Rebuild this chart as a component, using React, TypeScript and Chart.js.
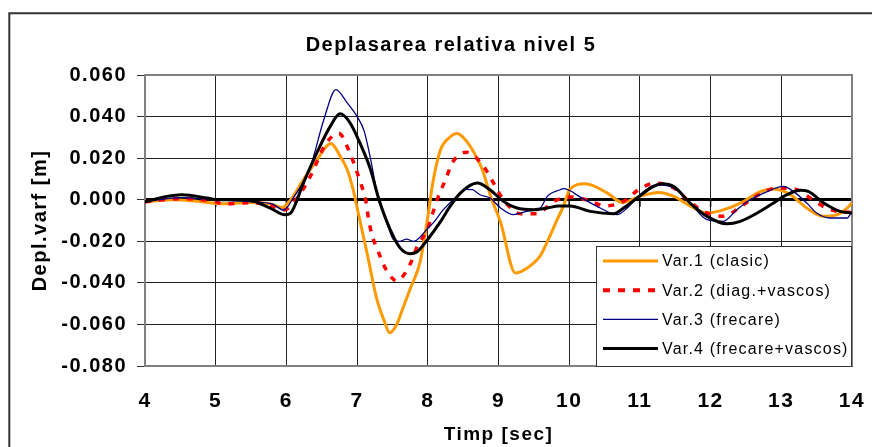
import React, { useEffect, useRef } from 'react';
import { Chart, registerables } from 'chart.js';

Chart.register(...registerables);

const chartTitle = 'Deplasarea relativa nivel 5';
const xAxisTitle = 'Timp [sec]';
const yAxisTitle = 'Depl.varf [m]';

const xMin = 4;
const xMax = 14;
const xStep = 1;
const yMin = -0.08;
const yMax = 0.06;
const yStep = 0.02;

const seriesLabels = ['Var.1 (clasic)', 'Var.2 (diag.+vascos)', 'Var.3 (frecare)', 'Var.4 (frecare+vascos)'];

const var1Time = [4.0, 4.4, 4.74, 5.11, 5.44, 5.77, 5.94, 6.06, 6.24, 6.43, 6.55, 6.63, 6.76, 6.86, 6.95, 7.02, 7.14, 7.28, 7.38, 7.46, 7.56, 7.65, 7.75, 7.89, 8.01, 8.07, 8.18, 8.3, 8.41, 8.5, 8.6, 8.77, 8.89, 9.03, 9.24, 9.4, 9.59, 9.68, 9.83, 9.92, 10.01, 10.23, 10.54, 10.75, 11.0, 11.26, 11.48, 11.71, 11.95, 12.19, 12.47, 12.66, 12.87, 13.13, 13.36, 13.6, 13.79, 13.93, 14.0];
const var1Disp = [-0.001, 0.0, -0.0008, -0.002, -0.0013, -0.002, -0.0037, 0.0, 0.0096, 0.019, 0.025, 0.027, 0.021, 0.0145, 0.004, -0.007, -0.0256, -0.048, -0.058, -0.064, -0.06, -0.052, -0.043, -0.03, -0.006, 0.008, 0.024, 0.0297, 0.0318, 0.03, 0.0257, 0.0145, 0.0016, -0.011, -0.0353, -0.033, -0.027, -0.021, -0.0096, -0.003, 0.005, 0.0077, 0.0032, -0.0013, 0.0016, 0.0035, 0.0016, -0.003, -0.0064, -0.0048, -0.0008, 0.0032, 0.0051, 0.0024, -0.004, -0.008, -0.0072, -0.004, -0.0015];

const var2Time = [4.0, 4.5, 5.0, 5.1, 5.5, 5.8, 5.96, 6.17, 6.35, 6.55, 6.74, 6.88, 6.97, 7.05, 7.12, 7.16, 7.21, 7.3, 7.4, 7.56, 7.75, 7.85, 7.99, 8.07, 8.15, 8.25, 8.35, 8.55, 8.79, 8.93, 9.07, 9.31, 9.54, 9.78, 10.04, 10.27, 10.51, 10.77, 10.98, 11.22, 11.48, 11.67, 11.9, 12.18, 12.44, 12.68, 12.94, 13.2, 13.43, 13.67, 13.93, 14.0];
const var2Disp = [-0.001, 0.0005, -0.001, -0.002, -0.0015, -0.003, -0.005, 0.0016, 0.012, 0.0265, 0.032, 0.024, 0.016, 0.008, 0.0, -0.0088, -0.0169, -0.025, -0.033, -0.039, -0.031, -0.0225, -0.0145, -0.0064, 0.0016, 0.0096, 0.018, 0.0228, 0.016, 0.008, 0.0, -0.0067, -0.0067, -0.0008, 0.0013, -0.0003, -0.003, -0.0008, 0.0048, 0.008, 0.0056, 0.0, -0.0056, -0.008, -0.003, 0.0024, 0.0056, 0.0051, 0.0003, -0.0045, -0.006, -0.006];

const var3Time = [4.0, 4.5, 5.0, 5.5, 5.8, 5.96, 6.1, 6.34, 6.53, 6.7, 6.86, 7.0, 7.1, 7.2, 7.3, 7.37, 7.45, 7.51, 7.6, 7.7, 7.8, 7.89, 7.98, 8.08, 8.22, 8.41, 8.55, 8.63, 8.74, 8.88, 9.03, 9.21, 9.4, 9.59, 9.69, 9.87, 9.92, 10.18, 10.44, 10.68, 10.82, 11.0, 11.24, 11.48, 11.71, 11.95, 12.18, 12.37, 12.56, 12.75, 13.03, 13.17, 13.36, 13.5, 13.69, 13.93, 14.0];
const var3Disp = [-0.001, 0.001, 0.0, -0.001, -0.002, -0.005, 0.001, 0.016, 0.0386, 0.053, 0.0466, 0.04, 0.033, 0.018, 0.0, -0.0064, -0.014, -0.019, -0.02, -0.019, -0.02, -0.018, -0.0145, -0.011, -0.0048, 0.0016, 0.005, 0.0048, 0.0024, 0.0008, -0.004, -0.0072, -0.0056, -0.004, 0.0016, 0.0048, 0.0053, 0.0008, -0.004, -0.0072, -0.004, 0.0024, 0.0072, 0.0056, -0.0016, -0.0096, -0.0104, -0.0048, 0.0, 0.0032, 0.0064, 0.004, -0.0016, -0.0064, -0.0088, -0.0088, -0.0056];

const var4Time = [4.0, 4.31, 4.52, 4.88, 5.02, 5.44, 5.77, 5.98, 6.06, 6.24, 6.43, 6.62, 6.76, 6.9, 7.04, 7.19, 7.31, 7.47, 7.61, 7.75, 7.85, 8.0, 8.18, 8.32, 8.46, 8.7, 8.88, 9.07, 9.26, 9.5, 9.69, 9.85, 10.01, 10.3, 10.63, 10.77, 10.96, 11.15, 11.31, 11.48, 11.71, 11.95, 12.23, 12.42, 12.66, 12.89, 13.08, 13.27, 13.38, 13.6, 13.83, 14.0];
const var4Disp = [-0.001, 0.0016, 0.0024, 0.0008, 0.0, 0.0, -0.004, -0.0072, -0.0064, 0.008, 0.0225, 0.0353, 0.0413, 0.037, 0.0273, 0.0145, 0.0, -0.0145, -0.0233, -0.026, -0.025, -0.019, -0.0105, -0.003, 0.0032, 0.008, 0.0048, -0.0008, -0.004, -0.0048, -0.004, -0.003, -0.003, -0.0056, -0.0067, -0.004, 0.0008, 0.0056, 0.0077, 0.0064, -0.0016, -0.008, -0.0116, -0.0104, -0.0064, -0.0016, 0.0024, 0.0045, 0.004, -0.0016, -0.0056, -0.0064];

const seriesTimes = [var1Time, var2Time, var3Time, var4Time];
const seriesDisps = [var1Disp, var2Disp, var3Disp, var4Disp];
const seriesColors = ['#FF9900', '#FF0000', '#000080', '#000000'];
const seriesWidths = [3, 3.5, 1.3, 3];
const seriesDashes: number[][] = [[], [6, 8], [], []];

const FONT = 'Arial, "Liberation Sans", sans-serif';

const decorPlugin = {
  id: 'decor',
  beforeUpdate(chart: any) {
    chart.ctx.letterSpacing = '1.5px';
  },
  beforeDatasetsDraw(chart: any) {
    const { ctx, chartArea: a, scales } = chart;
    ctx.save();
    const y0 = scales.y.getPixelForValue(0);
    ctx.strokeStyle = '#000';
    ctx.lineWidth = 1.5;
    for (let t = xMin; t <= xMax; t += xStep) {
      const px = scales.x.getPixelForValue(t);
      ctx.beginPath();
      ctx.moveTo(px, y0);
      ctx.lineTo(px, y0 + 7);
      ctx.stroke();
    }
    ctx.strokeStyle = '#808080';
    ctx.lineWidth = 2;
    ctx.strokeRect(a.left, a.top, a.right - a.left, a.bottom - a.top);
    ctx.restore();
  },
  afterDraw(chart: any) {
    const { ctx, chartArea: a } = chart;
    ctx.save();
    // outer frame
    ctx.strokeStyle = '#333';
    ctx.lineWidth = 2;
    ctx.beginPath();
    ctx.moveTo(9.3, 447);
    ctx.lineTo(9.3, 13.2);
    ctx.lineTo(872, 13.2);
    ctx.stroke();
    // title
    ctx.fillStyle = '#000';
    ctx.font = `bold 20px ${FONT}`;
    ctx.textAlign = 'center';
    ctx.textBaseline = 'middle';
    ctx.fillText(chartTitle, 451, 45);
    // legend
    const lw = 256, lh = 120;
    const lx = a.right - lw, ly = a.bottom - lh;
    ctx.fillStyle = '#fff';
    ctx.fillRect(lx, ly, lw, lh);
    ctx.strokeStyle = '#333';
    ctx.lineWidth = 1;
    ctx.strokeRect(lx + 0.5, ly + 0.5, lw - 1, lh);
    ctx.letterSpacing = '1.2px';
    chart.data.datasets.forEach((ds: any, i: number) => {
      const cy = ly + 15 + i * 29.2;
      ctx.strokeStyle = ds.borderColor;
      ctx.lineWidth = i === 1 ? 4 : ds.borderWidth;
      ctx.setLineDash(i === 1 ? [7, 8] : []);
      ctx.beginPath();
      ctx.moveTo(lx + 7, cy);
      ctx.lineTo(lx + 62, cy);
      ctx.stroke();
      ctx.setLineDash([]);
      ctx.fillStyle = '#000';
      ctx.font = `16px ${FONT}`;
      ctx.textAlign = 'left';
      ctx.textBaseline = 'middle';
      ctx.fillText(ds.label, lx + 66, cy + 1);
    });
    ctx.restore();
    ctx.letterSpacing = '1.5px';
  },
};

export default function App() {
  const ref = useRef<HTMLCanvasElement | null>(null);
  useEffect(() => {
    if (!ref.current) return;
    const datasets = seriesLabels.map((label, i) => ({
      label,
      data: seriesTimes[i].map((t, j) => ({ x: t, y: seriesDisps[i][j] })),
      borderColor: seriesColors[i],
      backgroundColor: seriesColors[i],
      borderWidth: seriesWidths[i],
      borderDash: seriesDashes[i],
      pointRadius: 0,
      fill: false,
      cubicInterpolationMode: 'monotone' as const,
      order: 4 - i,
    }));
    const isZero = (v: number) => Math.abs(v) < 1e-9;
    const chart = new Chart(ref.current, {
      type: 'line',
      data: { datasets },
      options: {
        animation: false,
        responsive: false,
        layout: { padding: { top: 75, right: 20, left: 0, bottom: 0 } },
        plugins: { legend: { display: false }, title: { display: false }, tooltip: { enabled: false } },
        scales: {
          x: {
            type: 'linear',
            min: xMin,
            max: xMax,
            afterFit: (s: any) => { s.height = 81; s.paddingLeft = 0; s.paddingRight = 0; },
            ticks: { stepSize: xStep, color: '#000', padding: 23, font: { family: FONT, size: 21, weight: 'bold' } },
            grid: { color: '#222', lineWidth: 1, drawTicks: false },
            border: { display: true, color: '#808080', width: 2 },
            title: { display: true, text: xAxisTitle, color: '#000', padding: { top: 0, bottom: 1 }, font: { family: FONT, size: 19, weight: 'bold' } },
          },
          y: {
            type: 'linear',
            min: yMin,
            max: yMax,
            afterFit: (s: any) => { s.width = 145; s.paddingTop = 0; s.paddingBottom = 0; },
            ticks: {
              stepSize: yStep,
              color: '#000',
              padding: 10,
              font: { family: FONT, size: 20, weight: 'bold' },
              callback: (v: any) => (isZero(Number(v)) ? '0.000' : Number(v).toFixed(3)),
            },
            grid: {
              color: (c: any) => (c.tick && isZero(c.tick.value) ? '#000' : '#222'),
              lineWidth: (c: any) => (c.tick && isZero(c.tick.value) ? 3 : 1),
              drawTicks: true,
              tickLength: 8,
              tickColor: '#333',
              tickWidth: 1,
            },
            border: { display: true, color: '#808080', width: 2 },
            title: { display: true, text: yAxisTitle, color: '#000', padding: { top: 28, bottom: 0 }, font: { family: FONT, size: 20, weight: 'bold' } },
          },
        },
      },
      plugins: [decorPlugin],
    } as any);
    return () => chart.destroy();
  }, []);
  return (
    <div style={{ position: 'absolute', left: 0, top: 0, width: 872, height: 447, background: '#fff' }}>
      <canvas ref={ref} width={872} height={447} style={{ display: 'block' }} />
    </div>
  );
}
